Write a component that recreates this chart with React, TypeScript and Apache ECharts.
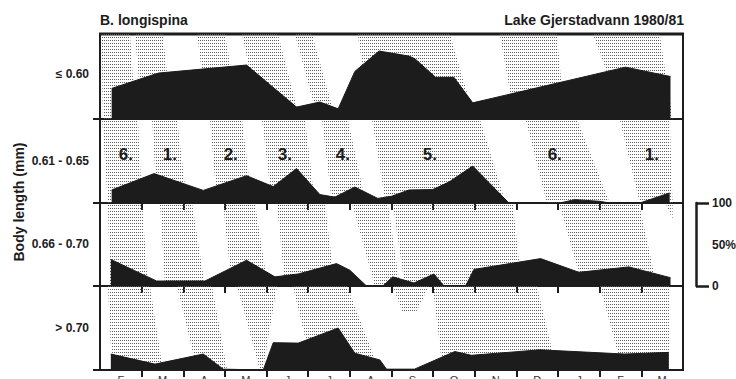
import React, { useEffect, useRef } from 'react';
import * as echarts from 'echarts';

// ---- data ----
const monthLabels = ['F', 'M', 'A', 'M', 'J', 'J', 'A', 'S', 'O', 'N', 'D', 'J', 'F', 'M'];
const sizeClasses = ['≤ 0.60', '0.61 - 0.65', '0.66 - 0.70', '> 0.70'];

// x = months since 1 Feb 1980, y = % of sample
const classLe060: [number, number][] = [
  [0.28, 36], [1.4, 54], [3.52, 63.5], [4.72, 14], [5.28, 20], [5.72, 12], [6.12, 56], [6.7, 80],
  [7.42, 74], [7.56, 71], [8.06, 49], [8.5, 49], [8.95, 19], [12.62, 61], [13.7, 50],
];
const class061_065: [number, number][] = [
  [0.28, 15.5], [1.3, 35], [2.48, 15], [3.52, 32.5], [4.16, 19.5], [4.72, 41], [5.28, 10], [5.64, 7],
  [6.12, 19], [6.67, 5.5], [7.0, 8], [7.42, 15.5], [7.99, 16], [8.38, 25], [8.95, 44], [9.82, 0],
  [11.04, 0], [11.4, 4], [12.0, 2], [12.24, 0], [12.96, 0], [13.68, 12],
];
const class066_070: [number, number][] = [
  [0.26, 32], [1.36, 6], [2.52, 6], [3.52, 31], [4.2, 11], [4.76, 14.5], [5.68, 27], [6.0, 19],
  [6.4, 0], [6.79, 0], [7.03, 11], [7.54, 3.6], [8.02, 14.5], [8.26, 0], [8.78, 0], [8.98, 20],
  [10.58, 33], [11.5, 16.5], [12.7, 23], [13.7, 10],
];
const classGt070: [number, number][] = [
  [0.26, 19], [1.32, 7], [2.48, 19], [2.96, 1], [3.92, 0], [4.16, 32.5], [4.76, 32], [5.72, 50],
  [6.12, 20], [6.72, 12], [6.88, 1], [7.55, 1], [8.52, 22], [8.92, 17.5], [10.56, 24], [12.6, 19],
  [13.66, 21],
];

// cohort bands (stippled), polygons in [month, %] per panel
const bandsLe060: [number, number][][] = [
  [[0.04, 100], [0.72, 100], [0.86, 0], [0.07, 0]],
  [[0.84, 100], [1.51, 100], [1.73, 0], [1.01, 0]],
  [[2.33, 100], [3.0, 100], [3.36, 0], [2.59, 0]],
  [[3.41, 100], [4.27, 100], [4.8, 0], [3.84, 0]],
  [[4.68, 100], [5.09, 100], [5.66, 0], [5.23, 0]],
  [[6.19, 100], [8.4, 100], [9.0, 0], [6.48, 0]],
  [[9.6, 100], [10.97, 100], [11.16, 0], [9.96, 0]],
  [[11.83, 100], [13.44, 100], [13.75, 0], [12.6, 0]],
];
const bands061_065: [number, number][][] = [
  [[0.05, 100], [0.91, 100], [1.01, 0], [0.19, 0]],
  [[1.25, 100], [1.85, 100], [2.09, 0], [1.37, 0]],
  [[2.64, 100], [3.41, 100], [3.65, 0], [2.81, 0]],
  [[3.89, 100], [4.92, 100], [5.16, 0], [4.13, 0]],
  [[5.33, 100], [5.95, 100], [6.38, 0], [5.57, 0]],
  [[6.53, 100], [9.12, 100], [9.74, 0], [6.86, 0]],
  [[10.22, 100], [11.45, 100], [12.24, 0], [10.73, 0]],
  [[12.48, 100], [13.68, 100], [13.75, 0], [12.96, 0]],
];
const bands066_070: [number, number][][] = [
  [[0.19, 100], [1.01, 100], [1.15, 0], [0.24, 0]],
  [[1.44, 100], [2.21, 100], [2.52, 0], [1.56, 0]],
  [[2.95, 100], [3.72, 100], [4.03, 0], [3.17, 0]],
  [[4.25, 100], [5.4, 100], [5.64, 0], [4.44, 0]],
  [[6.05, 100], [6.91, 100], [7.2, 0], [6.6, 0]],
  [[7.03, 100], [9.91, 100], [10.13, 0], [7.32, 0]],
  [[11.02, 100], [12.94, 100], [13.37, 0], [11.59, 0]],
  [[13.58, 100], [13.75, 100], [13.75, 80]],
];
const bandsGt070: [number, number][][] = [
  [[0.19, 100], [1.2, 100], [1.51, 0], [0.29, 0]],
  [[1.85, 100], [2.69, 100], [3.05, 0], [2.33, 0]],
  [[3.29, 100], [4.25, 100], [3.91, 0], [3.84, 0]],
  [[4.63, 100], [5.93, 100], [6.7, 0], [5.11, 0]],
  [[7.03, 100], [7.9, 100], [7.58, 68], [7.27, 68]],
  [[7.99, 100], [10.49, 100], [10.97, 0], [8.23, 0]],
  [[12.0, 100], [13.68, 100], [13.68, 0], [12.55, 0]],
];

const cohortNames = ['6.', '1.', '2.', '3.', '4.', '5.', '6.', '1.'];
const cohortMonths = [0.62, 1.68, 3.14, 4.44, 5.83, 7.92, 10.92, 13.25];
const cohortLevel = 58;

const monthTicks = [1, 2, 3, 4, 5, 6, 7, 8, 9, 10, 11, 12, 13];
const monthMids = [0.5, 1.5, 2.5, 3.5, 4.5, 5.5, 6.5, 7.5, 8.5, 9.5, 10.5, 11.5, 12.5, 13.5];
const scaleLabels = [0, 50, 100];

const panelSeries = [classLe060, class061_065, class066_070, classGt070];
const panelBands = [bandsLe060, bands061_065, bands066_070, bandsGt070];

// ---- layout ----
const FONT = '"Liberation Sans", Arial, Helvetica, sans-serif';
const INK = '#1c1c1c';
const gridTops = [34, 119, 203, 286];
const gridHeights = [85, 84, 83, 84];
const panelLabelY = [74, 161, 244, 328];

function makeDots(): HTMLCanvasElement {
  const c = document.createElement('canvas');
  c.width = 2;
  c.height = 3;
  const ctx = c.getContext('2d')!;
  ctx.clearRect(0, 0, 2, 3);
  ctx.fillStyle = '#5e5e5e';
  ctx.fillRect(0, 1, 1, 1);
  return c;
}

export default function App() {
  const ref = useRef<HTMLDivElement>(null);

  useEffect(() => {
    if (!ref.current) return;
    const chart = echarts.init(ref.current, null, { renderer: 'svg' });
    const dots = makeDots();
    const pattern: any = { image: dots, repeat: 'repeat', imageWidth: 2, imageHeight: 3 };

    const grids = gridTops.map((top, i) => ({
      left: 100,
      right: 53,
      top,
      height: gridHeights[i],
      outerBoundsMode: 'none',
      containLabel: false,
      show: true,
      borderColor: INK,
      borderWidth: 2,
      backgroundColor: 'transparent',
    }));

    const xAxes: any[] = gridTops.map((_, i) => ({
      gridIndex: i,
      type: 'value',
      min: 0,
      max: 14,
      position: 'top',
      show: i > 0,
      axisLine: { show: false },
      axisTick: {
        show: true,
        inside: true,
        length: 7,
        customValues: monthTicks,
        lineStyle: { color: INK, width: 2 },
      },
      axisLabel: { show: false },
      splitLine: { show: false },
    }));
    xAxes.push({
      gridIndex: 3,
      type: 'value',
      min: 0,
      max: 14,
      position: 'bottom',
      axisLine: { show: false },
      axisTick: {
        show: true,
        inside: false,
        length: 6,
        customValues: monthTicks,
        lineStyle: { color: INK, width: 2 },
      },
      axisLabel: {
        show: true,
        customValues: monthMids,
        formatter: (v: number) => monthLabels[Math.floor(v)] ?? '',
        fontSize: 11,
        fontFamily: FONT,
        color: '#333',
        margin: 4,
      },
      splitLine: { show: false },
    });

    const yAxes: any[] = gridTops.map((_, i) => ({
      gridIndex: i,
      type: 'value',
      min: 0,
      max: 100,
      axisLine: { show: false },
      axisTick: {
        show: i > 0,
        inside: false,
        length: 7,
        customValues: [0, 100],
        lineStyle: { color: INK, width: 2 },
      },
      axisLabel: { show: false },
      splitLine: { show: false },
    }));
    yAxes.push({
      gridIndex: 2,
      type: 'value',
      min: 0,
      max: 100,
      position: 'right',
      offset: 13,
      axisLine: { show: true, lineStyle: { color: INK, width: 2.5 } },
      axisTick: {
        show: true,
        inside: false,
        length: 13,
        customValues: [0, 100],
        lineStyle: { color: INK, width: 2.5 },
      },
      axisLabel: {
        show: true,
        customValues: scaleLabels,
        formatter: (v: number) => (v === 50 ? '50%' : String(v)),
        fontSize: 12,
        fontWeight: 'bold',
        fontFamily: FONT,
        color: INK,
        margin: 16,
      },
      splitLine: { show: false },
    });

    const series: any[] = [];
    panelBands.forEach((bands, i) => {
      series.push({
        type: 'custom',
        xAxisIndex: i,
        yAxisIndex: i,
        silent: true,
        z: 1,
        data: bands.map((_, k) => [k]),
        renderItem: (_params: any, api: any) => {
          const poly = bands[api.value(0)];
          return {
            type: 'polygon',
            shape: { points: poly.map((p) => api.coord(p)) },
            style: { fill: pattern, stroke: null },
          };
        },
      });
    });
    panelSeries.forEach((data, i) => {
      series.push({
        type: 'line',
        name: sizeClasses[i],
        xAxisIndex: i,
        yAxisIndex: i,
        data,
        symbol: 'none',
        z: 3,
        lineStyle: { color: INK, width: 1 },
        areaStyle: { color: INK, opacity: 1 },
      });
    });
    series.push({
      type: 'custom',
      xAxisIndex: 1,
      yAxisIndex: 1,
      silent: true,
      z: 5,
      data: cohortMonths.map((m) => [m, cohortLevel]),
      renderItem: (params: any, api: any) => {
        const pt = api.coord([api.value(0), api.value(1)]);
        return {
          type: 'text',
          x: pt[0],
          y: pt[1],
          style: {
            text: cohortNames[params.dataIndex],
            align: 'center',
            verticalAlign: 'middle',
            font: `bold 17px ${FONT}`,
            fill: INK,
          },
        };
      },
    });

    const graphic: any[] = [
      {
        type: 'line',
        shape: { x1: 99, y1: 34, x2: 684, y2: 34 },
        style: { stroke: INK, lineWidth: 3 },
      },
      {
        type: 'text',
        x: 100,
        y: 20,
        style: { text: 'B. longispina', font: `bold 14px ${FONT}`, fill: INK, align: 'left', verticalAlign: 'middle' },
      },
      {
        type: 'text',
        x: 684,
        y: 20,
        style: { text: 'Lake Gjerstadvann 1980/81', font: `bold 14px ${FONT}`, fill: INK, align: 'right', verticalAlign: 'middle' },
      },
      {
        type: 'text',
        x: 19,
        y: 202,
        rotation: Math.PI / 2,
        style: { text: 'Body length (mm)', font: `bold 14px ${FONT}`, fill: INK, align: 'center', verticalAlign: 'middle' },
      },
      ...sizeClasses.map((t, i) => ({
        type: 'text',
        x: 89,
        y: panelLabelY[i],
        style: { text: t, font: `bold 12px ${FONT}`, fill: INK, align: 'right', verticalAlign: 'middle' },
      })),
    ];

    chart.setOption({
      animation: false,
      backgroundColor: '#ffffff',
      grid: grids,
      xAxis: xAxes,
      yAxis: yAxes,
      series,
      graphic,
    });

    return () => chart.dispose();
  }, []);

  return (
    <div
      ref={ref}
      style={{ position: 'absolute', left: 0, top: 0, width: 736, height: 379, background: '#fff' }}
    />
  );
}
